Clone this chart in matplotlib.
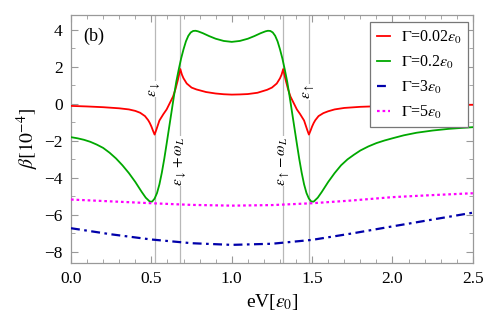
import matplotlib
matplotlib.use("Agg")
import matplotlib.pyplot as plt
from matplotlib.ticker import MultipleLocator

plt.rcParams['font.family'] = ['Liberation Serif', 'DejaVu Serif']
plt.rcParams['mathtext.fontset'] = 'stix'

# level positions (in units of eps0)
e_down = 0.52
e_up = 1.48
omega_L = 0.16

# Gamma = 0.02 eps0
x_red = [0.00, 0.10, 0.20, 0.30, 0.36, 0.40, 0.43, 0.46, 0.48, 0.49, 0.50, 0.51,
         0.52, 0.53, 0.55, 0.575, 0.595, 0.615, 0.635, 0.65, 0.665, 0.68, 0.69,
         0.70, 0.72, 0.75, 0.78, 0.84, 0.90, 0.95, 1.00, 1.05, 1.10, 1.16, 1.22,
         1.25, 1.28, 1.30, 1.31, 1.32, 1.335, 1.35, 1.365, 1.385, 1.405, 1.425,
         1.45, 1.47, 1.48, 1.49, 1.50, 1.51, 1.52, 1.54, 1.57, 1.60, 1.64, 1.70,
         1.80, 1.90, 2.00, 2.20, 2.50]
y_red = [-0.11, -0.14, -0.18, -0.24, -0.30, -0.38, -0.48, -0.66, -0.88, -1.03, -1.22, -1.45,
         -1.66, -1.42, -0.90, -0.55, -0.30, 0.05, 0.40, 0.80, 1.30, 1.88, 1.58,
         1.38, 1.10, 0.88, 0.78, 0.64, 0.56, 0.52, 0.50, 0.51, 0.53, 0.60, 0.76,
         0.88, 1.10, 1.38, 1.58, 1.88, 1.30, 0.80, 0.40, 0.05, -0.30, -0.55,
         -0.90, -1.42, -1.66, -1.45, -1.22, -1.03, -0.88, -0.66, -0.50, -0.40, -0.30, -0.22,
         -0.16, -0.13, -0.11, -0.08, -0.05]

# Gamma = 0.2 eps0
x_green = [0.00, 0.04, 0.08, 0.12, 0.16, 0.20, 0.24, 0.28, 0.32, 0.36, 0.40, 0.44,
           0.465, 0.49, 0.505, 0.52, 0.535, 0.55, 0.565, 0.58, 0.595, 0.61, 0.625,
           0.64, 0.655, 0.67, 0.685, 0.70, 0.715, 0.73, 0.745, 0.76, 0.775, 0.79,
           0.82, 0.86, 0.90, 0.95, 1.00, 1.05, 1.10, 1.14, 1.18, 1.21, 1.225, 1.24,
           1.255, 1.27, 1.285, 1.30, 1.315, 1.33, 1.345, 1.36, 1.375, 1.39, 1.405,
           1.42, 1.435, 1.45, 1.465, 1.48, 1.495, 1.51, 1.535, 1.56, 1.60, 1.64,
           1.68, 1.72, 1.76, 1.80, 1.85, 1.90, 1.95, 2.00, 2.07, 2.15, 2.25, 2.35,
           2.43, 2.50]
y_green = [-1.80, -1.86, -1.94, -2.05, -2.20, -2.38, -2.64, -2.95, -3.32, -3.74, -4.22, -4.76,
           -5.07, -5.28, -5.28, -5.12, -4.82, -4.35, -3.72, -2.98, -2.15, -1.30, -0.45,
           0.40, 1.20, 1.85, 2.45, 2.95, 3.38, 3.68, 3.86, 3.94, 3.95, 3.92,
           3.82, 3.66, 3.52, 3.40, 3.35, 3.40, 3.52, 3.66, 3.82, 3.92, 3.95, 3.94,
           3.86, 3.68, 3.38, 2.95, 2.45, 1.85, 1.20, 0.40, -0.45, -1.30, -2.15,
           -2.98, -3.72, -4.35, -4.82, -5.12, -5.28, -5.28, -5.07, -4.76, -4.22, -3.74,
           -3.32, -3.00, -2.75, -2.52, -2.30, -2.12, -1.98, -1.86, -1.70, -1.56, -1.44, -1.35,
           -1.30, -1.26]

# Gamma = 3 eps0 and 5 eps0
x_wide = [0.00, 0.25, 0.50, 0.75, 1.00, 1.25, 1.50, 1.75, 2.00, 2.25, 2.50]
y_blue = [-6.72, -7.05, -7.33, -7.53, -7.62, -7.56, -7.35, -7.00, -6.62, -6.25, -5.88]
y_magenta = [-5.17, -5.27, -5.37, -5.46, -5.50, -5.47, -5.37, -5.22, -5.04, -4.93, -4.83]

fig = plt.figure(figsize=(4.84, 3.27), dpi=100)
ax = fig.add_axes([0.1467, 0.1957, 0.8303, 0.7583])

# resonance guide lines and their labels
vlines = [e_down, e_down + omega_L, e_up - omega_L, e_up]
vlabels = [r'$\epsilon_{\downarrow}$', r'$\epsilon_{\downarrow}+\omega_L$',
           r'$\epsilon_{\uparrow}-\omega_L$', r'$\epsilon_{\uparrow}$']
vlabel_y = [0.8, -3.1, -3.1, 0.65]
for xv, lab, yl in zip(vlines, vlabels, vlabel_y):
    ax.axvline(xv, color='#b8b8b8', lw=0.9, zorder=1)
    ax.text(xv, yl, lab, rotation=90, ha='center', va='center', fontsize=11,
            bbox=dict(facecolor='white', edgecolor='none', pad=0.3), zorder=2)

ax.plot(x_red, y_red, color='#ff0000', lw=1.3, zorder=4, label=r'$\Gamma$=0.02$\epsilon_0$')
ax.plot(x_green, y_green, color='#00a800', lw=1.3, zorder=4, label=r'$\Gamma$=0.2$\epsilon_0$')
ax.plot(x_wide, y_blue, color='#0000aa', lw=1.6, ls=(0, (4, 2, 1.2, 2)), zorder=4,
        label=r'$\Gamma$=3$\epsilon_0$')
ax.plot(x_wide, y_magenta, color='#ff00ff', lw=1.6, ls=(0, (1.2, 1.3)), zorder=4,
        label=r'$\Gamma$=5$\epsilon_0$')

ax.set_xlim(0, 2.5)
ax.set_ylim(-8.6, 4.8)
ax.xaxis.set_major_locator(MultipleLocator(0.5))
ax.xaxis.set_minor_locator(MultipleLocator(0.1))
ax.yaxis.set_major_locator(MultipleLocator(2))
ax.yaxis.set_minor_locator(MultipleLocator(1))
ax.set_xticks([0, 0.5, 1.0, 1.5, 2.0, 2.5])
ax.set_xticklabels(['0.0', '0.5', '1.0', '1.5', '2.0', '2.5'])
ax.tick_params(which='both', direction='in', top=True, right=True, color='#999999',
               labelsize=12.5)
ax.tick_params(which='major', length=5, width=0.8, pad=6)
ax.tick_params(which='minor', length=3, width=0.6)
for s in ax.spines.values():
    s.set_color('#999999')
    s.set_linewidth(0.9)

ax.set_xlabel(r'eV[$\epsilon_0$]', fontsize=14, labelpad=3)
ax.set_ylabel(r'$\beta[10^{-4}]$', fontsize=14, labelpad=2)
ax.text(0.03, 0.95, '(b)', transform=ax.transAxes, fontsize=13, va='top', ha='left')

leg = ax.legend(loc='upper right', bbox_to_anchor=(0.9876, 0.9718), borderaxespad=0,
                fontsize=11.5, handlelength=0.8, handletextpad=0.7, borderpad=0.4,
                labelspacing=0.5, fancybox=False, framealpha=1, edgecolor='#777777')
leg.get_frame().set_linewidth(0.9)
leg.set_zorder(5)

fig.savefig('out.png', dpi=100)
